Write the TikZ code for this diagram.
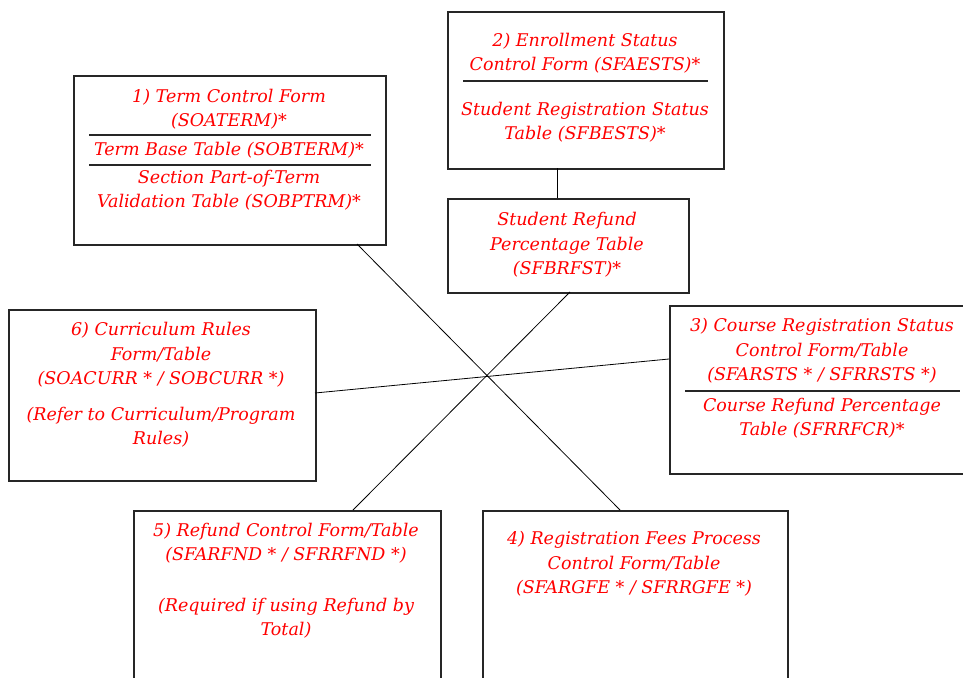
\documentclass[tikz,border=0pt]{standalone}
\usepackage{fontspec}
\setmainfont{DejaVu Serif}
\begin{document}
\begin{tikzpicture}[x=1pt,y=-1pt,
  box/.style={draw=black!85, line width=1.7pt, fill=white, inner sep=0pt, anchor=north west},
  label/.style={text=red, align=center, inner sep=0pt,
    font=\fontsize{17.5}{24.5}\selectfont\itshape},
  rule/.style={draw=black!85, line width=1.3pt},
  link/.style={draw=black, line width=0.8pt}]
\useasboundingbox (0,0) rectangle (963,677);
\clip (0,0) rectangle (963,677);

% connector end points on the box borders
\coordinate (t1) at (357,244);
\coordinate (t4) at (620,510);
\coordinate (r1) at (570,292);
\coordinate (r5) at (353,510);
\coordinate (c6) at (315,393);
\coordinate (c3) at (669,359);
\coordinate (e2) at (557,168);
\coordinate (e7) at (557,198);

% boxes
\node[box, minimum width=312pt, minimum height=169pt] (term) at (73,75) {};
\node[box, minimum width=276pt, minimum height=157pt] (enroll) at (447,11) {};
\node[box, minimum width=241pt, minimum height=94pt] (refund) at (447,198) {};
\node[box, minimum width=307pt, minimum height=171pt] (curr) at (8,309) {};
\node[box, minimum width=307pt, minimum height=168pt] (course) at (669,305) {};
\node[box, minimum width=307pt, minimum height=190pt] (fndbox) at (133,510) {};
\node[box, minimum width=305pt, minimum height=190pt] (fees) at (482,510) {};

% connectors
\draw[link] (t1) -- (t4);
\draw[link] (r1) -- (r5);
\draw[link] (c6) -- (c3);
\draw[link] (e2) -- (e7);

% 1) term control
\node[label] (term-a) at (229,109) {1) Term Control Form\\(SOATERM)*};
\draw[rule] (89,135) -- (371,135);
\node[label] (term-b) at (229,150) {Term Base Table (SOBTERM)*};
\draw[rule] (89,165) -- (371,165);
\node[label] (term-c) at (229,190) {Section Part-of-Term\\Validation Table (SOBPTRM)*};

% 2) enrollment status
\node[label] (enroll-a) at (585,53) {2) Enrollment Status\\Control Form (SFAESTS)*};
\draw[rule] (463,81) -- (708,81);
\node[label] (enroll-b) at (585,122) {Student Registration Status\\Table (SFBESTS)*};

% student refund percentage
\node[label] (refund-a) at (567,245) {Student Refund\\Percentage Table\\(SFBRFST)*};

% 6) curriculum rules
\node[label] (curr-a) at (161,355) {6) Curriculum Rules\\Form/Table\\(SOACURR * / SOBCURR *)};
\node[label] (curr-b) at (161,427) {(Refer to Curriculum/Program\\Rules)};

% 3) course registration status
\node[label] (course-a) at (822,351) {3) Course Registration Status\\Control Form/Table\\(SFARSTS * / SFRRSTS *)};
\draw[rule] (685,391) -- (960,391);
\node[label] (course-b) at (822,418) {Course Refund Percentage\\Table (SFRRFCR)*};

% 5) refund control
\node[label] (fnd-a) at (286,543) {5) Refund Control Form/Table\\(SFARFND * / SFRRFND *)};
\node[label] (fnd-b) at (286,618) {(Required if using Refund by\\Total)};

% 4) registration fees
\node[label] (fees-a) at (634,564) {4) Registration Fees Process\\Control Form/Table\\(SFARGFE * / SFRRGFE *)};
\end{tikzpicture}
\end{document}
